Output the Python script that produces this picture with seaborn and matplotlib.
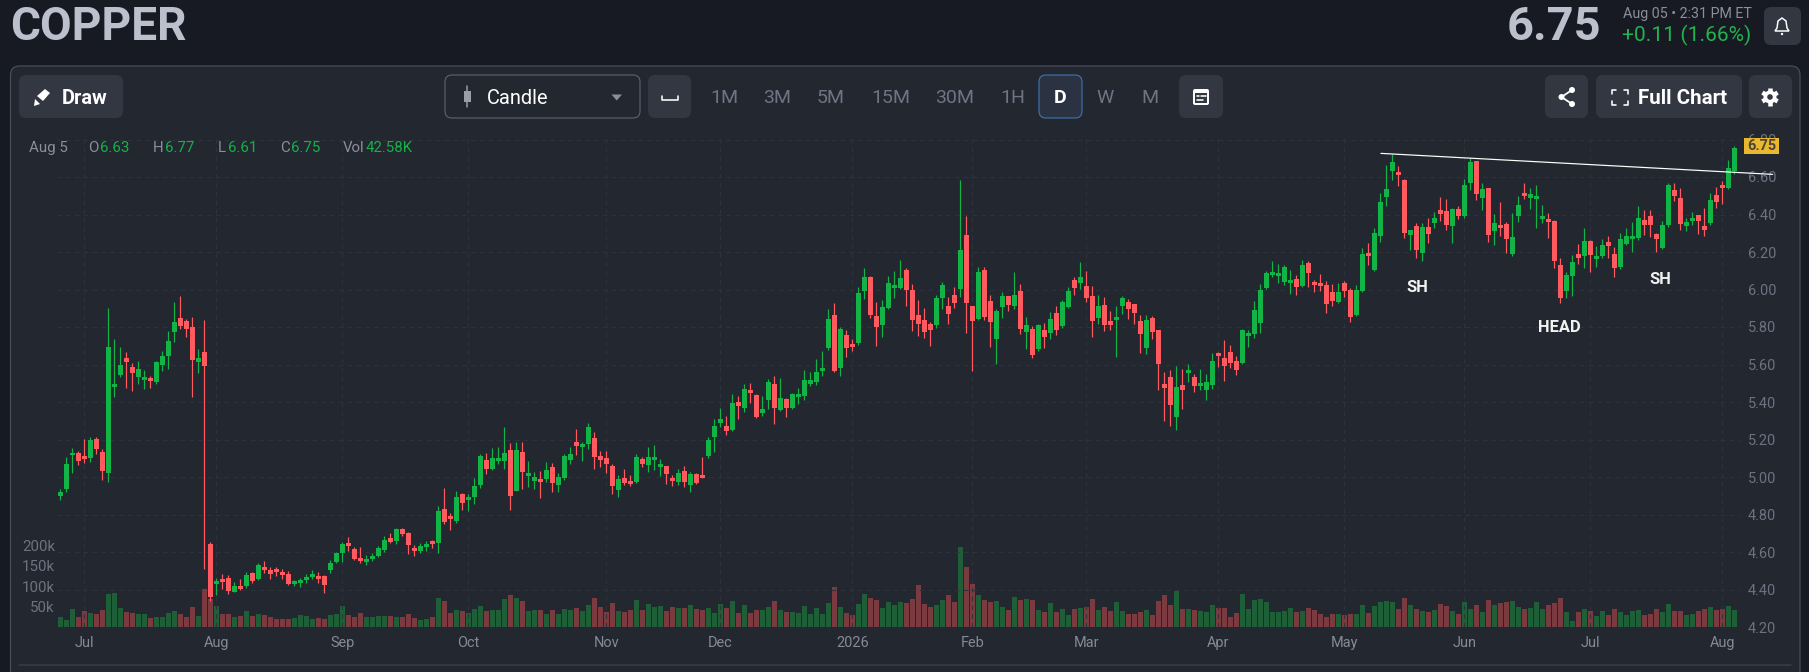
import numpy as np
import pandas as pd
import matplotlib
matplotlib.use("Agg")
import matplotlib.pyplot as plt
from matplotlib.patches import FancyBboxPatch, Rectangle, Circle, Polygon
import seaborn as sns

direction = ("GGGRRGRRGGGRRGGRGGGGRRRGRR" "GRRGRGRGRRRRRGGGGRRGGGRRRGGGGRGRRRGGRGRRG"
             "RGGGRGGGRGRGGRGRGGGRGGRRRRGRRGRGGGRRGRGRRGGGRGRGRRGGRGRGGGGGG"
             "GRGRRGGRRGGGGRRRRRGGRRGRRGRRGGRGRGRGRGRGGRGRRGRRGGRRRGRRRRGRGRGGGRRRR"
             "GGGGGGGGGRGRRRRRGRRGGRGGGGRRGRGRGRRGRGGRGRG"
             "RRGGRGGGRRRGGRGRGGRRGGGGRRRGGRRGGRRGRRGG")

body_top = [
 4.922,5.071,5.130,5.130,5.114,5.199,5.204,5.133,5.692,5.494,5.596,5.633,5.588,5.578,5.532,5.526,5.612,5.644,5.724,5.825,
 5.846,5.830,5.798,5.633,5.665,4.643,4.447,4.456,4.461,4.419,4.419,4.477,4.488,4.531,4.520,4.504,4.509,4.493,4.483,4.445,
 4.452,4.467,4.483,4.472,4.472,4.540,4.595,4.644,4.648,4.616,4.568,4.563,4.579,4.621,4.664,4.675,4.723,4.723,4.703,4.621,
 4.632,4.643,4.659,4.819,4.829,4.794,4.893,
 4.911,4.893,4.954,5.114,5.092,5.103,5.103,5.130,5.146,5.146,5.135,5.023,5.002,4.989,5.039,5.055,5.000,5.114,5.125,5.185,
 5.178,5.269,5.210,5.114,5.103,5.061,4.989,4.996,4.980,5.108,5.098,5.108,5.108,5.071,5.061,4.996,5.023,5.034,5.018,5.018,
 5.012,5.199,5.274,5.308,5.274,5.393,5.398,5.468,5.462,5.436,5.361,5.505,5.494,5.420,5.414,5.441,5.441,5.516,5.516,5.558,5.580,
 5.841,5.862,5.788,5.756,5.708,5.980,6.065,6.065,5.857,5.905,6.033,6.022,6.060,6.102,5.996,5.862,5.836,5.814,5.953,6.022,
 5.910,5.969,6.209,6.289,5.910,6.092,6.102,5.937,5.884,5.964,5.964,5.969,5.990,5.809,5.788,5.809,5.782,5.841,5.873,5.932,
 5.990,6.049,6.065,6.017,5.964,5.910,5.916,5.830,5.852,5.953,5.932,5.921,5.830,5.836,5.846,5.782,5.494,5.532,5.478,5.489,
 5.569,5.532,5.500,5.505,5.617,5.660,5.633,5.665,5.617,
 5.782,5.766,5.889,5.996,6.086,6.092,6.086,6.118,6.049,6.054,6.129,6.140,6.038,6.033,6.022,5.985,5.985,6.033,5.996,5.996,
 6.188,6.193,6.300,6.465,6.534,6.678,6.627,6.582,6.316,6.337,6.332,6.332,6.380,6.422,6.417,6.428,6.428,6.556,6.678,6.684,
 6.534,6.540,6.353,
 6.342,6.348,6.278,6.449,6.513,6.508,6.497,6.390,6.376,6.365,6.129,6.076,6.145,6.188,6.257,6.257,6.177,6.236,6.252,6.188,
 6.268,6.284,6.284,6.380,6.369,6.390,6.294,6.342,6.556,6.529,6.486,6.358,6.380,6.396,6.337,6.476,6.502,6.556,6.646,6.753]

body_bottom = [
 4.899,4.938,5.116,5.087,5.096,5.103,5.148,5.030,5.020,5.478,5.546,5.612,5.553,5.532,5.516,5.510,5.505,5.596,5.644,5.772,
 5.805,5.788,5.624,5.615,5.590,4.360,4.429,4.440,4.392,4.389,4.403,4.419,4.445,4.456,4.506,4.485,4.493,4.477,4.431,4.431,
 4.437,4.451,4.467,4.456,4.424,4.504,4.547,4.595,4.634,4.563,4.552,4.547,4.563,4.579,4.611,4.653,4.659,4.698,4.639,4.605,
 4.607,4.627,4.643,4.648,4.762,4.776,4.765,
 4.863,4.877,4.895,4.959,5.045,5.043,5.087,5.087,4.900,4.927,5.029,5.007,4.981,4.973,4.991,4.970,4.959,4.996,5.092,5.167,
 5.162,5.178,5.108,5.092,5.071,4.954,4.933,4.970,4.964,4.973,5.071,5.066,5.092,5.055,5.018,4.981,4.973,4.975,4.959,4.970,
 4.996,5.114,5.212,5.286,5.247,5.253,5.377,5.366,5.446,5.322,5.340,5.409,5.366,5.356,5.366,5.366,5.425,5.430,5.494,5.505,5.564,
 5.686,5.567,5.580,5.686,5.692,5.713,5.992,5.862,5.798,5.809,5.900,6.006,6.006,5.996,5.836,5.814,5.772,5.782,5.809,5.953,
 5.868,5.926,6.001,5.926,5.830,5.841,5.852,5.825,5.734,5.905,5.916,5.910,5.788,5.772,5.649,5.681,5.745,5.766,5.782,5.804,
 5.905,6.006,6.033,5.953,5.830,5.846,5.809,5.809,5.836,5.910,5.894,5.873,5.761,5.686,5.772,5.601,5.473,5.382,5.318,5.462,
 5.553,5.484,5.484,5.462,5.489,5.644,5.590,5.606,5.569,
 5.606,5.750,5.763,5.820,6.006,6.076,6.070,6.038,6.033,6.012,6.017,6.086,6.022,6.017,5.921,5.937,5.932,5.990,5.852,5.862,
 5.990,6.177,6.104,6.285,6.492,6.632,6.611,6.301,6.289,6.209,6.193,6.294,6.353,6.403,6.342,6.337,6.390,6.390,6.566,6.509,
 6.486,6.289,6.310,
 6.328,6.269,6.189,6.392,6.497,6.488,6.483,6.374,6.360,6.152,5.953,5.992,6.072,6.168,6.179,6.184,6.163,6.177,6.232,6.115,
 6.118,6.243,6.268,6.273,6.342,6.342,6.269,6.220,6.342,6.499,6.349,6.339,6.365,6.365,6.317,6.355,6.467,6.541,6.540,6.630]

highs = [
 4.934,5.105,5.153,5.141,5.201,5.215,5.212,5.151,5.901,5.734,5.692,5.665,5.606,5.619,5.571,5.539,5.617,5.672,5.777,5.932,
 5.965,5.841,5.853,5.681,5.836,4.655,4.460,4.483,4.477,4.440,4.458,4.492,4.493,4.541,4.554,4.522,4.522,4.511,4.499,4.451,
 4.461,4.485,4.504,4.493,4.477,4.557,4.600,4.655,4.682,4.625,4.628,4.584,4.596,4.632,4.687,4.703,4.730,4.730,4.708,4.637,
 4.648,4.660,4.664,4.845,4.943,4.806,4.927,
 4.917,4.911,4.996,5.125,5.130,5.153,5.162,5.265,5.183,5.185,5.185,5.087,5.025,5.030,5.082,5.076,5.023,5.125,5.158,5.254,
 5.189,5.286,5.238,5.137,5.137,5.069,5.012,5.045,5.012,5.125,5.108,5.158,5.169,5.098,5.061,5.012,5.045,5.061,5.029,5.023,
 5.108,5.215,5.311,5.366,5.324,5.441,5.430,5.494,5.500,5.441,5.430,5.521,5.537,5.526,5.420,5.446,5.473,5.569,5.558,5.629,5.670,
 5.894,5.926,5.798,5.784,5.734,6.012,6.113,6.070,5.932,5.942,6.070,6.097,6.156,6.113,6.028,5.942,5.900,5.825,5.969,6.038,
 5.958,6.012,6.584,6.390,5.910,6.118,6.118,5.969,5.894,5.985,5.964,6.092,6.028,5.852,5.804,5.814,5.820,5.878,5.910,5.942,
 6.012,6.065,6.145,6.097,6.017,5.969,5.958,5.884,5.910,5.964,5.948,5.921,5.862,5.862,5.857,5.782,5.558,5.569,5.590,5.574,
 5.601,5.548,5.574,5.548,5.660,5.665,5.729,5.702,5.644,
 5.788,5.782,5.937,6.028,6.097,6.150,6.134,6.129,6.102,6.076,6.156,6.150,6.049,6.081,6.044,6.028,6.033,6.044,6.006,6.022,
 6.220,6.246,6.326,6.513,6.662,6.721,6.657,6.588,6.316,6.353,6.353,6.380,6.412,6.492,6.481,6.433,6.444,6.588,6.700,6.684,
 6.566,6.540,6.401,
 6.465,6.362,6.406,6.497,6.566,6.540,6.556,6.449,6.406,6.371,6.166,6.092,6.182,6.241,6.326,6.262,6.230,6.268,6.284,6.225,
 6.300,6.326,6.358,6.444,6.422,6.422,6.300,6.364,6.566,6.566,6.540,6.380,6.412,6.396,6.433,6.513,6.545,6.577,6.689,6.764]

lows = [
 4.877,4.920,5.023,5.066,5.076,5.082,5.124,4.984,4.973,5.428,5.532,5.476,5.460,5.496,5.471,5.476,5.498,5.567,5.578,5.722,
 5.788,5.748,5.428,5.556,4.511,4.339,4.371,4.401,4.376,4.387,4.397,4.410,4.437,4.451,4.486,4.458,4.472,4.458,4.426,4.420,
 4.413,4.437,4.458,4.437,4.383,4.488,4.541,4.547,4.607,4.557,4.543,4.531,4.552,4.572,4.600,4.648,4.644,4.685,4.589,4.579,
 4.595,4.605,4.621,4.595,4.749,4.717,4.755,
 4.824,4.819,4.856,4.941,5.016,5.037,5.069,5.043,4.824,4.925,4.936,4.947,4.936,4.888,4.973,4.920,4.920,4.986,5.069,5.117,
 5.085,5.151,5.043,5.053,5.021,4.909,4.893,4.959,4.952,4.968,5.053,5.027,5.037,5.005,4.963,4.952,4.957,4.947,4.920,4.963,
 4.995,5.103,5.135,5.269,5.226,5.247,5.311,5.349,5.396,5.316,5.327,5.364,5.284,5.350,5.322,5.364,5.388,5.409,5.485,5.489,5.537,
 5.676,5.560,5.540,5.642,5.670,5.702,5.948,5.846,5.700,5.745,5.898,5.953,6.001,5.910,5.777,5.750,5.740,5.700,5.793,5.894,
 5.814,5.901,5.958,5.766,5.567,5.836,5.836,5.692,5.601,5.846,5.884,5.894,5.761,5.681,5.633,5.670,5.686,5.734,5.756,5.793,
 5.900,5.969,6.001,5.932,5.748,5.814,5.777,5.782,5.642,5.868,5.841,5.814,5.663,5.658,5.738,5.466,5.300,5.274,5.252,5.361,
 5.505,5.452,5.462,5.409,5.468,5.588,5.514,5.580,5.542,
 5.603,5.695,5.740,5.766,6.001,6.065,6.033,6.022,5.974,5.969,6.012,6.012,5.985,5.990,5.877,5.910,5.926,5.958,5.825,5.860,
 5.985,6.129,6.097,6.252,6.444,6.582,6.550,6.273,6.209,6.166,6.150,6.246,6.326,6.364,6.316,6.246,6.374,6.380,6.529,6.476,
 6.422,6.252,6.236,
 6.285,6.193,6.179,6.360,6.481,6.429,6.328,6.353,6.275,6.115,5.926,5.953,5.965,6.136,6.115,6.092,6.118,6.168,6.166,6.065,
 6.108,6.237,6.200,6.264,6.291,6.280,6.200,6.216,6.333,6.472,6.317,6.312,6.344,6.294,6.285,6.342,6.435,6.456,6.534,6.614]

volumes_k = [
 24,17,44,24,39,34,32,41,80,83,46,37,34,32,32,22,24,24,34,39,
 32,24,49,27,93,68,51,32,32,24,27,39,27,32,29,24,20,20,20,22,
 29,27,20,22,20,29,32,51,29,24,34,24,24,27,27,27,24,24,32,22,
 17,20,24,71,63,34,41,39,34,44,51,39,41,41,68,78,71,63,39,41,
 41,32,41,32,44,41,47,39,54,71,49,37,59,39,37,41,66,41,56,49,
 51,39,49,46,46,54,44,41,46,34,56,46,63,34,54,34,41,41,50,63,
 41,37,37,34,51,32,46,32,59,98,49,34,29,56,80,71,66,46,61,54,
 61,59,68,103,56,49,54,66,78,61,195,146,105,78,66,61,63,49,41,73,
 66,68,66,41,37,59,37,44,29,44,46,49,68,41,49,39,61,39,32,32,
 37,41,29,63,78,54,88,44,44,41,39,37,54,46,46,24,34,80,44,66,
 68,61,37,37,39,46,37,39,46,41,32,24,32,32,29,32,32,54,34,51,
 61,63,61,44,71,54,44,39,37,41,56,51,39,32,61,44,54,37,66,54,
 59,61,63,49,44,46,61,44,54,59,71,37,15,37,44,39,27,39,29,44,
 37,29,39,41,29,32,44,37,56,39,39,29,32,39,44,49,41,44,51,42.58]

month_labels = ["Jul","Aug","Sep","Oct","Nov","Dec","2026","Feb","Mar","Apr","May","Jun","Jul","Aug"]
month_index = [4,26,47,68,91,110,132,152,171,193,214,234,255,277]
price_ticks = [4.2,4.4,4.6,4.8,5.0,5.2,5.4,5.6,5.8,6.0,6.2,6.4,6.6,6.8]
volume_ticks = [50,100,150,200]
volume_labels = ["50k","100k","150k","200k"]
trend_x = [220.1,285.4]
trend_y = [6.726,6.614]
pattern_labels = ["SH","HEAD","SH"]
pattern_x = [226.2,249.8,266.6]
pattern_y = [6.008,5.80,6.055]
timeframes = ["1M","3M","5M","15M","30M","1H","D","W","M"]
timeframe_x = [724.5,777.6,830.7,890.7,955,1013,1060,1105,1150]

BG, PANEL, BTN = "#171a23", "#232730", "#333742"
GREEN, RED = "#12b347", "#ff5a60"
VGREEN, VRED = "#1f5f37", "#7b3a40"
MUTED, TICK = "#8b8f9c", "#6d7280"

sns.set_theme(style="dark")
plt.rcParams["font.family"] = ["Roboto", "DejaVu Sans"]

W, H = 1809, 672
fig = plt.figure(figsize=(W/100, H/100), dpi=100, facecolor=BG)
px = 0.72  # points in one pixel at this dpi

ui = fig.add_axes([0, 0, 1, 1], zorder=0)
ui.set_xlim(0, W); ui.set_ylim(H, 0); ui.axis("off")

def box(x0, y0, x1, y1, fc=BTN, ec="none", r=7, lw=1.0):
    ui.add_patch(FancyBboxPatch((x0, y0), x1-x0, y1-y0, boxstyle=f"round,pad=0,rounding_size={r}",
                                fc=fc, ec=ec, lw=lw*px))

def label(x, y, s, size, color="white", ha="center", weight="normal"):
    ui.text(x, y, s, fontsize=size*px, color=color, ha=ha, va="center", fontweight=weight)

box(10.5, 66, 1800, 700, fc=PANEL, ec="#4a4e5f", r=9, lw=1.2)
ui.plot([19, 1791], [665, 665], color="#393d49", lw=1.5*px)

label(10, 27, "COPPER", 46, "#bcbfcc", ha="left", weight="bold")
label(1507, 27, "6.75", 47, "#bcbfcc", ha="left", weight="bold")
label(1623, 14, "Aug 05 • 2:31 PM ET", 14.2, MUTED, ha="left")
label(1622, 35, "+0.11 (1.66%)", 21, "#22b34f", ha="left")

# bell
box(1764, 7, 1801, 45, r=7)
ui.add_patch(Polygon([(1782,18),(1786,21),(1787,28),(1789,31),(1775,31),(1777,28),(1778,21)], closed=True,
                     fc=BTN, ec="white", lw=1.5*px))
ui.add_patch(Circle((1782, 34), 1.2, fc="white", ec="none"))

# draw button
box(19, 75, 123, 118)
ui.add_patch(Polygon([(37,96),(45,89),(50,93),(43,101)], closed=True, fc="white", ec="none"))
ui.add_patch(Polygon([(35,99),(40,104),(34,106)], closed=True, fc="white", ec="none"))
label(85, 98, "Draw", 20, weight="semibold")

# candle dropdown
box(445, 75, 640, 118, fc=PANEL, ec="#5a5f6d", lw=1.2)
ui.plot([467, 467], [86, 107], color="#9a9eaa", lw=1.5*px)
ui.add_patch(Rectangle((464, 91), 7, 11, fc="#9a9eaa", ec="none"))
label(487, 98, "Candle", 20, ha="left")
ui.add_patch(Polygon([(611.5,94.5),(622,94.5),(616.7,100.5)], closed=True, fc=MUTED, ec="none"))

# spacing button
box(648, 75, 691, 118)
ui.plot([661.5, 661.5, 677.5, 677.5], [96, 100, 100, 96], color="white", lw=1.6*px)

# timeframes
box(1039, 75, 1082, 118, fc="#2b3242", ec="#3d6fae", lw=1.2)
for s, x in zip(timeframes, timeframe_x):
    active = s == "D"
    label(x, 98, s, 19.5, "white" if active else "#6f7484", weight="bold" if active else "normal")

# calendar button
box(1179, 75, 1223, 118)
box(1193, 89, 1209, 105, fc="white", r=2)
ui.add_patch(Rectangle((1195, 93), 12, 10, fc=BTN, ec="none"))
ui.plot([1196.5, 1199], [96, 96], color="white", lw=1.6*px)
ui.plot([1201, 1206], [96, 96], color="white", lw=1.6*px)
ui.plot([1196.5, 1203], [100, 100], color="white", lw=1.6*px)

# share
box(1545, 75, 1588, 118)
ui.plot([1572, 1561.5, 1572], [90, 97, 104], color="white", lw=1.8*px)
for cy, cx in [(90, 1572), (97, 1561.5), (104, 1572)]:
    ui.add_patch(Circle((cx, cy), 3, fc="white", ec="none"))

# full chart
box(1596, 75, 1742, 118)
for x0, dx in [(1611.5, 4), (1627.5, -4)]:
    ui.plot([x0+dx, x0, x0], [89.5, 89.5, 93.5], color="white", lw=1.6*px)
    ui.plot([x0+dx, x0, x0], [104.5, 104.5, 100.5], color="white", lw=1.6*px)
label(1638, 98, "Full Chart", 20.5, ha="left", weight="semibold")

# settings gear
box(1749, 75, 1792, 118)
for a in np.deg2rad([30, 90, 150, 210, 270, 330]):
    ui.plot([1770, 1770+8.8*np.cos(a)], [97, 97+8.8*np.sin(a)], color="white", lw=4.5*px, solid_capstyle="butt")
ui.add_patch(Circle((1770, 97), 6.5, fc="white", ec="none", zorder=4))
ui.add_patch(Circle((1770, 97), 2.8, fc=BTN, ec="none", zorder=5))

# OHLC row
for x, s, c in [(29,"Aug 5",MUTED),(88,"O",MUTED),(100,"6.63",GREEN),(153,"H",MUTED),(165,"6.77",GREEN),
                (218,"L",MUTED),(228,"6.61",GREEN),(280,"C",MUTED),(291,"6.75",GREEN),
                (343,"Vol",MUTED),(366,"42.58K",GREEN)]:
    label(x, 148, s, 15, c, ha="left")

# data
df = pd.DataFrame({"idx": np.arange(len(volumes_k)), "volume": volumes_k, "dir": list(direction),
                   "top": body_top, "bottom": body_bottom, "high": highs, "low": lows})

L_, R_, T_, B_ = 57, 1740, 135, 627
rect = [L_/W, 1-B_/H, (R_-L_)/W, (B_-T_)/H]
STEP, X0, PX_PER_PRICE, PX_PER_50K = 6.0, 60.3, 187.5, 20.4
xlim = ((L_-X0)/STEP, (R_-X0)/STEP)

vol = fig.add_axes(rect, zorder=1, facecolor="none")
sns.barplot(data=df, x="idx", y="volume", hue="dir", palette={"G": VGREEN, "R": VRED}, native_scale=True,
            dodge=False, width=0.83, linewidth=0, saturation=1, errorbar=None, legend=False, ax=vol)
vol.set_xlim(*xlim)
vol.set_ylim(0, 50*(B_-T_)/PX_PER_50K)
vol.set_yticks(volume_ticks, volume_labels, fontsize=15*px, color=TICK)
vol.tick_params(axis="y", length=0, pad=1.5)
vol.tick_params(axis="x", bottom=False, labelbottom=False)
vol.set_xlabel(""); vol.set_ylabel("")
vol.grid(False)
for sp in vol.spines.values():
    sp.set_visible(False)

ax = fig.add_axes(rect, zorder=2, facecolor="none")
ax.set_xlim(*xlim)
ax.set_ylim(4.2, 4.2+(B_-T_)/PX_PER_PRICE)
ax.yaxis.tick_right()
ax.set_yticks(price_ticks, [f"{v:.2f}" for v in price_ticks], fontsize=14.5*px, color=TICK)
ax.set_xticks(month_index, month_labels, fontsize=14.5*px, color="#858a97")
ax.tick_params(axis="both", length=0)
ax.tick_params(axis="y", pad=5.5)
ax.tick_params(axis="x", pad=6.5)
ax.set_axisbelow(True)
ax.grid(True, color="#2d323c", lw=1.1*px, ls=(0, (4, 4)))
for sp in ax.spines.values():
    sp.set_visible(False)

colors = df["dir"].map({"G": GREEN, "R": RED})
ax.vlines(df["idx"], df["low"], df["high"], colors=colors, lw=1.2*px, zorder=3)
ax.bar(df["idx"], df["top"]-df["bottom"], bottom=df["bottom"], width=0.83, color=colors, linewidth=0, zorder=4)

ax.plot(trend_x, trend_y, color="white", lw=1.2*px, clip_on=False, zorder=5)
for s, x, y in zip(pattern_labels, pattern_x, pattern_y):
    ax.text(x, y, s, color="#f2f2f2", fontsize=16.5*px, fontweight="bold", ha="center", va="center", zorder=6)

ax.add_patch(Rectangle((1744, 138), 35, 16, transform=ui.transData, fc="#e9b82f", ec="none", clip_on=False, zorder=10))
ax.text(1761.5, 146, "6.75", transform=ui.transData, color="#4a4638", fontsize=14.5*px, fontweight="bold",
        ha="center", va="center", clip_on=False, zorder=11)

fig.savefig("out.png", dpi=100, facecolor=BG)
